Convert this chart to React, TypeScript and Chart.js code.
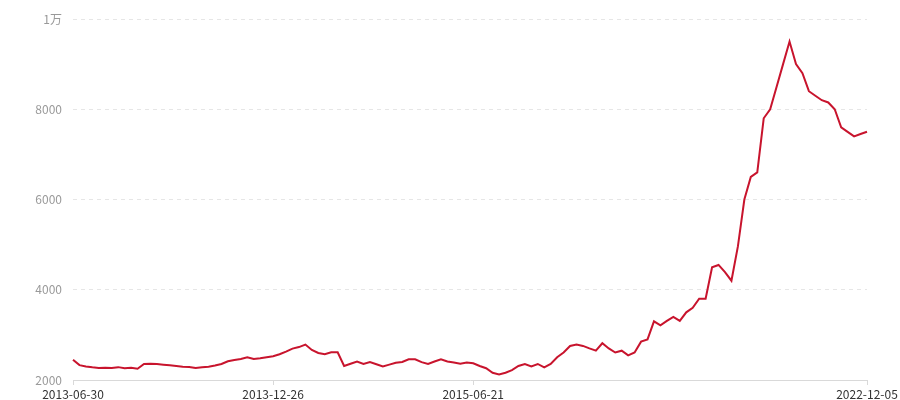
import React, { useEffect, useRef } from "react";
import { Chart, registerables } from "chart.js";

Chart.register(...registerables);

const seriesValues: number[] = [
  2450, 2330, 2300, 2280, 2265, 2270, 2265, 2285, 2260, 2270,
  2250, 2355, 2360, 2355, 2340, 2325, 2310, 2295, 2290, 2265,
  2280, 2295, 2320, 2355, 2415, 2445, 2465, 2505, 2465, 2480,
  2505, 2525, 2570, 2630, 2695, 2730, 2785, 2665, 2600, 2570,
  2615, 2615, 2310, 2360, 2410, 2355, 2400, 2350, 2300, 2340,
  2380, 2400, 2460, 2460, 2395, 2355, 2410, 2460, 2410, 2390,
  2360, 2390, 2370, 2310, 2260, 2160, 2125, 2160, 2220, 2310,
  2355, 2300, 2355, 2280, 2355, 2505, 2610, 2755, 2785, 2755,
  2700, 2650, 2815, 2700, 2610, 2650, 2545, 2610, 2850, 2900,
  3300, 3210, 3310, 3400, 3310, 3500, 3600, 3800, 3800, 4500,
  4550, 4390, 4200, 4960, 6000, 6500, 6600, 7800, 8000, 8500,
  9000, 9500, 9000, 8800, 8400, 8300, 8200, 8150, 8000, 7600,
  7500, 7400, 7450, 7500,
];

const tickIndexes: number[] = [0, 31, 62, 123];
const tickLabels: string[] = ["2013-06-30", "2013-12-26", "2015-06-21", "2022-12-05"];
const yTicks: number[] = [2000, 4000, 6000, 8000, 10000];
const yTickLabels: string[] = ["2000", "4000", "6000", "8000", "1万"];

const categories: string[] = seriesValues.map((_, i) => {
  const k = tickIndexes.indexOf(i);
  return k >= 0 ? tickLabels[k] : String(i);
});

const FONT = "'Noto Sans CJK SC', 'Noto Sans', sans-serif";

export default function App() {
  const canvasRef = useRef<HTMLCanvasElement | null>(null);

  useEffect(() => {
    const canvas = canvasRef.current;
    if (!canvas) return;
    const chart = new Chart(canvas, {
      type: "line",
      data: {
        labels: categories,
        datasets: [
          {
            data: seriesValues,
            borderColor: "#c8142d",
            borderWidth: 2,
            pointRadius: 0,
            tension: 0,
            fill: false,
          },
        ],
      },
      options: {
        responsive: false,
        animation: false,
        layout: { padding: { left: 0, right: 33, top: 19, bottom: 0 } },
        plugins: {
          legend: { display: false },
          tooltip: { enabled: false },
        },
        scales: {
          x: {
            type: "category",
            offset: false,
            afterBuildTicks: (axis: any) => {
              axis.ticks = tickIndexes.map((v) => ({ value: v }));
            },
            afterFit: (axis: any) => {
              axis.height = 20;
            },
            grid: {
              display: true,
              drawOnChartArea: false,
              drawTicks: true,
              tickLength: 5,
              color: "#d9d9d9",
            },
            border: { display: true, color: "#d9d9d9", width: 1 },
            ticks: {
              autoSkip: false,
              maxRotation: 0,
              minRotation: 0,
              padding: 2,
              color: "#333333",
              font: { family: FONT, size: 12 },
              callback: (value: any) => {
                const k = tickIndexes.indexOf(Number(value));
                return k >= 0 ? tickLabels[k] : "";
              },
            },
          },
          y: {
            min: 2000,
            max: 10000,
            afterBuildTicks: (axis: any) => {
              axis.ticks = yTicks.map((v) => ({ value: v }));
            },
            afterFit: (axis: any) => {
              axis.width = 73;
            },
            grid: {
              drawTicks: false,
              color: (ctx: any) =>
                ctx.tick && ctx.tick.value === 2000 ? "rgba(0,0,0,0)" : "#e6e6e6",
              lineWidth: 1,
            },
            border: { display: false, dash: [4, 4] },
            ticks: {
              padding: 11,
              color: "#999999",
              font: { family: FONT, size: 12 },
              callback: (value: any) => {
                const k = yTicks.indexOf(Number(value));
                return k >= 0 ? yTickLabels[k] : "";
              },
            },
          },
        },
      },
    });
    return () => chart.destroy();
  }, []);

  return (
    <div style={{ position: "fixed", left: 0, top: 0, width: 900, height: 400, background: "#fff" }}>
      <canvas ref={canvasRef} width={900} height={400} style={{ width: 900, height: 400 }} />
    </div>
  );
}
